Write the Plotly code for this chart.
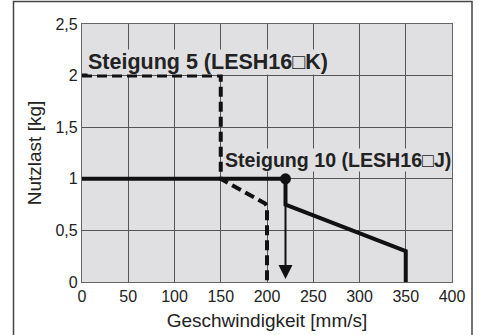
import plotly.graph_objects as go

# Steigung 5 (dashed)
s5_x = [0, 150, 150, 198, 200, 200]
s5_y = [2, 2, 1, 0.76, 0.73, 0]
# Steigung 10 (solid)
s10_x = [0, 220, 220, 350, 350]
s10_y = [1, 1, 0.75, 0.3, 0]
# marker point and arrow
pt_x = [220]
pt_y = [1]
arrow_to = (220, 0)

x_ticks = [0, 50, 100, 150, 200, 250, 300, 350, 400]
y_ticks = [0, 0.5, 1, 1.5, 2, 2.5]
y_ticktext = ["0", "0,5", "1", "1,5", "2", "2,5"]

FONT = "Liberation Sans, Arial, sans-serif"
BG = "#e0e0e2"
fig = go.Figure()
fig.add_trace(go.Scatter(x=s5_x, y=s5_y, mode="lines",
                         line=dict(color="#111", width=4, dash="10px,5px"),
                         hoverinfo="skip"))
fig.add_trace(go.Scatter(x=s10_x, y=s10_y, mode="lines",
                         line=dict(color="#111", width=4), hoverinfo="skip"))
fig.add_trace(go.Scatter(x=pt_x, y=pt_y, mode="markers",
                         marker=dict(color="#111", size=11), hoverinfo="skip"))

fig.add_annotation(x=arrow_to[0], y=arrow_to[1], ax=pt_x[0], ay=pt_y[0],
                   xref="x", yref="y", axref="x", ayref="y", text="",
                   showarrow=True, arrowhead=2, arrowsize=1.4, arrowwidth=2,
                   arrowcolor="#111", standoff=3)

fig.add_annotation(x=5, y=2.13, xref="x", yref="y", xanchor="left",
                   text="<b>Steigung 5 (LESH16</b>□<b>K)</b>", showarrow=False,
                   font=dict(family=FONT, size=21.5, color="#222"),
                   bgcolor=BG, borderpad=0)
fig.add_annotation(x=400 - 0.5, y=1.18, xref="x", yref="y", xanchor="right",
                   text="<b>Steigung 10 (LESH16</b>□<b>J)</b>", showarrow=False,
                   font=dict(family=FONT, size=19.6, color="#222"),
                   bgcolor=BG, borderpad=0)

# outer frame
fig.add_shape(type="rect", xref="paper", yref="paper",
              x0=(13.5 - 82) / 370, x1=(472 - 82) / 370,
              y0=-0.3, y1=(282 - 1.5) / 258,
              line=dict(color="#444", width=1.5), layer="below")

fig.update_layout(
    width=480, height=335,
    margin=dict(l=82, r=28, t=24, b=53),
    paper_bgcolor="white", plot_bgcolor=BG,
    showlegend=False,
    font=dict(family=FONT, size=16, color="#222"),
)
fig.update_xaxes(range=[0, 400], tickvals=x_ticks, showgrid=True,
                 gridcolor="#555", gridwidth=1.2, zeroline=False,
                 showline=True, linecolor="#666", linewidth=1.2, mirror=True,
                 ticks="", automargin=False,
                 title=dict(text="Geschwindigkeit [mm/s]", standoff=9),
                 tickfont=dict(size=16))
fig.update_yaxes(range=[0, 2.5], tickvals=y_ticks, ticktext=y_ticktext,
                 showgrid=True, gridcolor="#555", gridwidth=1.2, zeroline=False,
                 showline=True, linecolor="#666", linewidth=1.2, mirror=True,
                 ticks="", automargin=False,
                 title=dict(text="Nutzlast [kg]", standoff=8),
                 tickfont=dict(size=16))

fig.write_html("out.html", config={"displayModeBar": False},
               post_script="document.body.style.margin='0';")
